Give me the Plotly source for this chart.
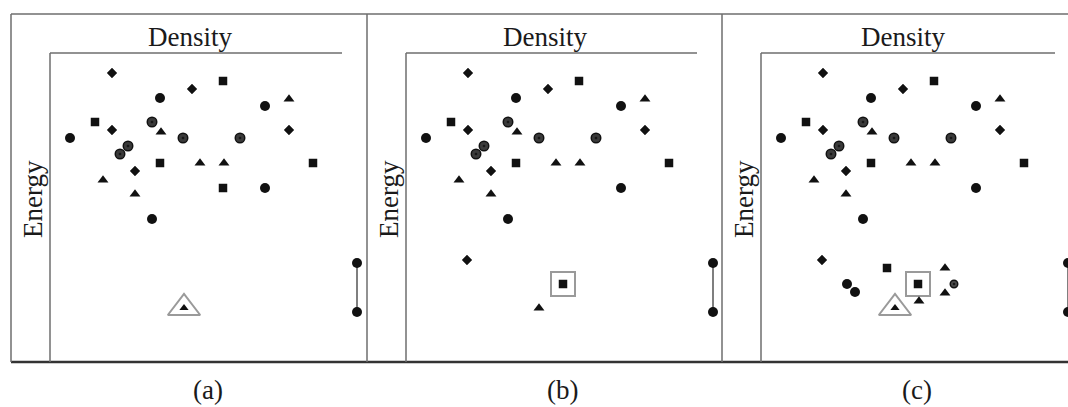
import plotly.graph_objects as go

W, H = 1068, 407

# ---------------- data (density, energy) ----------------
# points shared by all three panels
circle_x = [110, 215, 20, 215, 102]
circle_y = [264, 256, 224, 174, 143]
square_x = [173, 45, 110, 263]
square_y = [281, 240, 199, 199]
star_x = [62, 142, 62, 239, 85]
star_y = [289, 273, 232, 232, 191]
tri_x = [239, 111, 150, 174, 53, 85]
tri_y = [263, 230, 199, 199, 182, 168]
ring_x = [102, 133, 190, 78, 70]
ring_y = [240, 224, 224, 216, 208]

# panel (a) extras
a_square_x, a_square_y = [173], [174]
a_target_tri_x, a_target_tri_y = [134], [54]

# panel (b) extras
b_star_x, b_star_y = [61], [102]
b_tri_x, b_tri_y = [133], [54]
b_target_sq_x, b_target_sq_y = [157], [78]

# panel (c) extras
c_star_x, c_star_y = [61], [102]
c_square_x, c_square_y = [126], [94]
c_circle_x, c_circle_y = [86, 94], [78, 70]
c_tri_x, c_tri_y = [158, 184, 184], [61, 94, 69]
c_ring_x, c_ring_y = [193], [78]
c_target_sq_x, c_target_sq_y = [157], [78]
c_target_tri_x, c_target_tri_y = [134], [54]

# dumbbell at the right edge of each panel
bar_x = [307, 307]
bar_y = [99, 50]

panel_labels = ["(a)", "(b)", "(c)"]
x_title = "Density"
y_title = "Energy"

# ---------------- layout geometry (pixels) ----------------
outer_left = [11, 367, 722]
inner_left = [50, 406, 761]
inner_top_end = [342, 697, 1055]
top_y, axis_y, bottom_y = 14, 53, 362

INK = "#111111"

fig = go.Figure()


def px(x):
    return x / W


def py(y):
    return 1 - y / H


def add_pts(i, xs, ys, symbol, size, color=INK, line_color=None, line_w=0):
    ax = "" if i == 0 else str(i + 1)
    fig.add_trace(go.Scatter(
        x=xs, y=ys, mode="markers", xaxis="x" + ax, yaxis="y" + ax,
        marker=dict(symbol=symbol, size=size, color=color,
                    line=dict(color=line_color or color, width=line_w)),
        showlegend=False, hoverinfo="skip"))


panels = [
    dict(circ=([], []), sq=(a_square_x, a_square_y), star=([], []), tri=([], []), ring=([], []),
         tsq=([], []), ttri=(a_target_tri_x, a_target_tri_y)),
    dict(circ=([], []), sq=([], []), star=(b_star_x, b_star_y), tri=(b_tri_x, b_tri_y), ring=([], []),
         tsq=(b_target_sq_x, b_target_sq_y), ttri=([], [])),
    dict(circ=(c_circle_x, c_circle_y), sq=(c_square_x, c_square_y), star=(c_star_x, c_star_y),
         tri=(c_tri_x, c_tri_y), ring=(c_ring_x, c_ring_y),
         tsq=(c_target_sq_x, c_target_sq_y), ttri=(c_target_tri_x, c_target_tri_y)),
]

for i, p in enumerate(panels):
    ax = "" if i == 0 else str(i + 1)
    # dumbbell
    fig.add_trace(go.Scatter(x=bar_x, y=bar_y, mode="lines", xaxis="x" + ax, yaxis="y" + ax,
                             line=dict(color="#555555", width=1.5), showlegend=False, hoverinfo="skip"))
    add_pts(i, bar_x, bar_y, "circle", 10)
    # highlight frames
    add_pts(i, p["ttri"][0], p["ttri"][1], "triangle-up-open", 28, color="#9a9a9a", line_w=2)
    add_pts(i, p["tsq"][0], p["tsq"][1], "square-open", 24, color="#9a9a9a", line_w=2)
    add_pts(i, circle_x + p["circ"][0], circle_y + p["circ"][1], "circle", 10)
    add_pts(i, square_x + p["sq"][0], square_y + p["sq"][1], "square", 8.5)
    add_pts(i, p["tsq"][0], p["tsq"][1], "square", 8.5)
    add_pts(i, star_x + p["star"][0], star_y + p["star"][1], "diamond", 7.5,
            line_color=INK, line_w=0.5)
    add_pts(i, tri_x + p["tri"][0], tri_y + p["tri"][1], "triangle-up", 9.5)
    add_pts(i, p["ttri"][0], p["ttri"][1], "triangle-up", 8)
    add_pts(i, ring_x, ring_y, "circle-dot", 9.5,
            color="#3a3a3a", line_color="#111111", line_w=1.5)
    add_pts(i, p["ring"][0], p["ring"][1], "circle-dot", 7.5,
            color="#4a4a4a", line_color="#111111", line_w=1.5)

layout = dict(width=W, height=H, margin=dict(l=0, r=0, t=0, b=0),
              paper_bgcolor="white", plot_bgcolor="rgba(0,0,0,0)", showlegend=False)

y_dom = [py(bottom_y), py(axis_y)]
for i in range(3):
    ax = "" if i == 0 else str(i + 1)
    x0 = inner_left[i]
    x1 = min(x0 + 316, W)
    layout["xaxis" + ax] = dict(domain=[px(x0), px(x1)], range=[0, x1 - x0], visible=False,
                                fixedrange=True, anchor="y" + ax)
    layout["yaxis" + ax] = dict(domain=y_dom, range=[0, bottom_y - axis_y], visible=False,
                                fixedrange=True, anchor="x" + ax)

shapes = []
line_gray = dict(color="#6e6e6e", width=1.5)
# outer frame
shapes.append(dict(type="line", xref="paper", yref="paper", x0=px(11), x1=1, y0=py(top_y), y1=py(top_y), line=line_gray))
shapes.append(dict(type="line", xref="paper", yref="paper", x0=px(11), x1=1, y0=py(bottom_y), y1=py(bottom_y),
                   line=dict(color="#333333", width=2.5)))
for i in range(3):
    shapes.append(dict(type="line", xref="paper", yref="paper", x0=px(outer_left[i]), x1=px(outer_left[i]),
                       y0=py(top_y), y1=py(bottom_y), line=line_gray))
    shapes.append(dict(type="line", xref="paper", yref="paper", x0=px(inner_left[i]), x1=px(inner_left[i]),
                       y0=py(axis_y), y1=py(bottom_y), line=line_gray))
    shapes.append(dict(type="line", xref="paper", yref="paper", x0=px(inner_left[i]), x1=px(inner_top_end[i]),
                       y0=py(axis_y), y1=py(axis_y), line=line_gray))
layout["shapes"] = shapes

font = dict(family="Liberation Serif, Times New Roman, serif", size=27, color="#1a1a1a")
annotations = []
title_x = [190, 545, 903]
label_x = [208, 562, 917]
for i in range(3):
    annotations.append(dict(text=x_title, x=px(title_x[i]), y=py(37), xref="paper", yref="paper",
                            showarrow=False, font=font, xanchor="center", yanchor="middle"))
    annotations.append(dict(text=y_title, x=px(outer_left[i] + 22), y=py(199), xref="paper", yref="paper",
                            showarrow=False, font=font, textangle=-90, xanchor="center", yanchor="middle"))
    annotations.append(dict(text=panel_labels[i], x=px(label_x[i]), y=py(390), xref="paper", yref="paper",
                            showarrow=False, font=font, xanchor="center", yanchor="middle"))
layout["annotations"] = annotations

fig.update_layout(**layout)
fig.write_html("out.html")
